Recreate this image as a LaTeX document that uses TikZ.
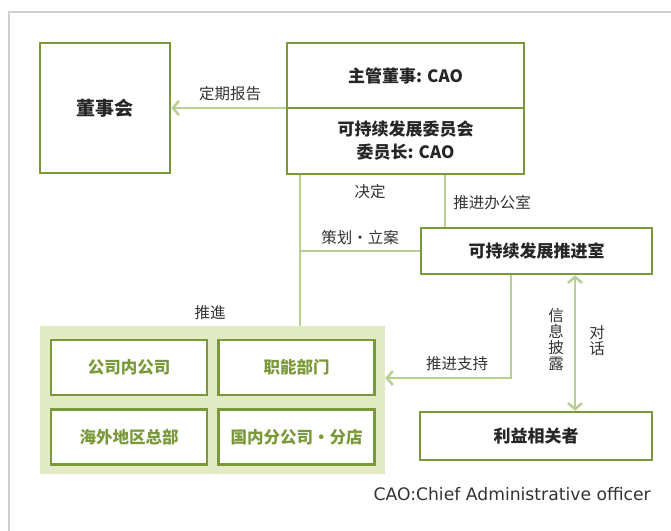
\documentclass[tikz,border=0pt]{standalone}
\usepackage{fontspec}
\setmainfont{Noto Sans CJK SC}
\newfontfamily\notefont{DejaVu Sans}
\definecolor{boxgreen}{RGB}{122,154,58}
\definecolor{linegreen}{RGB}{184,206,146}
\definecolor{groupbg}{RGB}{227,235,198}
\definecolor{framegray}{RGB}{208,208,208}
\definecolor{textgray}{RGB}{51,51,51}
\usetikzlibrary{arrows.meta,positioning,calc}

\begin{document}
\begin{tikzpicture}[
      x=1pt, y=1pt,
      box/.style={draw=boxgreen, line width=2.5pt, fill=white, inner sep=0pt, align=center, font=\fontsize{17}{23}\selectfont\bfseries, text=black!85},
      unit/.style={box, minimum width=156pt, minimum height=55pt, font=\fontsize{16.5}{20}\selectfont\bfseries, text=boxgreen},
      link/.style={draw=linegreen, line width=2.5pt},
      arrow/.style={link, -{Straight Barb[length=6pt,width=14pt]}},
      twoway/.style={link, {Straight Barb[length=6pt,width=14pt]}-{Straight Barb[length=6pt,width=14pt]}},
      tag/.style={font=\fontsize{15.5}{16}\selectfont, text=textgray, inner sep=0pt, align=center}
    ]
      \useasboundingbox (0,0) rectangle (671,-530);
      \draw[framegray, line width=1.8pt] (9,-540) |- (690,-12);

      % Board and committee
      \node[box, minimum width=130pt, minimum height=130pt, font=\fontsize{19}{23}\selectfont\bfseries] (board) at (105,-108) {董事会};
      \node[box, minimum width=237pt, minimum height=65pt] (cao) at (405.5,-75.5) {主管董事: CAO};
      \node[box, minimum width=237pt, minimum height=66pt, below=-2.5pt of cao] (committee) {可持续发展委员会\\委员长: CAO};

      % Office and stakeholders
      \node[box, minimum width=231pt, minimum height=46pt] (office) at (536.5,-251) {可持续发展推进室};
      \node[box, minimum width=232pt, minimum height=48pt] (stake) at (536,-436) {利益相关者};

      % Business units
      \node[fill=groupbg, minimum width=345pt, minimum height=148pt] (group) at (212.5,-400) {};
      \node[unit] (inhouse) at (129,-367.5) {公司内公司};
      \node[unit, right=9pt of inhouse] (staff) {职能部门};
      \node[unit, below=12pt of inhouse] (overseas) {海外地区总部};
      \node[unit, below=12pt of staff] (domestic) {国内分公司・分店};

      % Connectors
      \draw[arrow] (board.east -| cao.west) -- (board.east);
      \coordinate (split) at ($(committee.south west)+(14,0)$);
      \draw[link] (split) -- (split |- group.north);
      \draw[link] (office.west) -- (office.west -| split);
      \coordinate (relay) at ($(committee.south)+(39.5,0)$);
      \draw[link] (relay) -- (relay |- office.north);
      \coordinate (support) at ($(office.south)+(-25.5,0)$);
      \draw[arrow] (support) |- (group.east |- 0,-378);
      \coordinate (talk) at ($(office.south)+(38.5,0)$);
      \draw[twoway] (talk) -- (talk |- stake.north);

      % Labels
      \node[tag] (report) at (230,-94) {定期报告};
      \node[tag] (decide) at (370,-192) {决定};
      \node[tag] (officetag) at (492,-203) {推进办公室};
      \node[tag] (plan) at (360,-238) {策划・立案};
      \node[tag] (promote) at (210,-313) {推進};
      \node[tag] (supporttag) at (457,-364) {推进支持};
      \node[tag] (disclose) at (556,-340) {信\\息\\披\\露};
      \node[tag] (dialogue) at (597,-341) {对\\话};
      \node[tag, anchor=east, font=\notefont\fontsize{17.2}{19}\selectfont] (note) at (651,-494) {CAO:Chief Administrative officer};
    \end{tikzpicture}
\end{document}
